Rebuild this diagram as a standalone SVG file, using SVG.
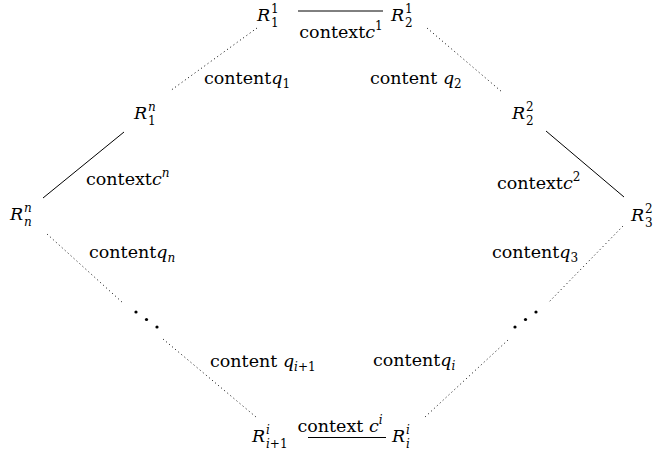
<svg xmlns="http://www.w3.org/2000/svg" width="654" height="456" viewBox="0 0 654 456">
<style>
text{font-family:"DejaVu Serif","Liberation Serif",serif;font-size:17.5px;fill:#000}
.it{font-style:italic}
.s{font-size:12px}
.mid{text-anchor:middle}
.solid{stroke:#000;stroke-width:1;fill:none}
.dot{stroke:#000;stroke-width:1;fill:none;stroke-dasharray:1 3}
</style>
<rect width="654" height="456" fill="#fff"/>
<g id="connectors">
<line class="solid" x1="298" y1="11" x2="383" y2="11"/>
<line class="dot" x1="257" y1="28" x2="170" y2="91"/>
<line class="dot" x1="427" y1="28" x2="502" y2="92"/>
<line class="solid" x1="124" y1="132" x2="43" y2="198"/>
<line class="solid" x1="546" y1="131" x2="624" y2="197"/>
<line class="dot" x1="47" y1="234" x2="123" y2="303"/>
<line class="dot" x1="163" y1="339" x2="256" y2="417"/>
<line class="dot" x1="623" y1="226" x2="548" y2="303"/>
<line class="dot" x1="508" y1="340" x2="425" y2="417"/>
<line class="solid" x1="308" y1="437.5" x2="386" y2="437.5"/>
<g fill="#000">
<circle cx="136" cy="312" r="1.6"/><circle cx="146.5" cy="319.5" r="1.6"/><circle cx="157" cy="327" r="1.6"/>
<circle cx="536" cy="312" r="1.6"/><circle cx="525.5" cy="319.5" r="1.6"/><circle cx="515" cy="327" r="1.6"/>
</g>
</g>
<g id="labels">
<text class="mid" x="341" y="38">context<tspan class="it">c</tspan><tspan class="s" dy="-8">1</tspan></text>
<text x="204" y="84">content<tspan class="it">q</tspan><tspan class="s" dy="4">1</tspan></text>
<text x="370" y="84">content <tspan class="it">q</tspan><tspan class="s" dy="4">2</tspan></text>
<text x="86" y="185">context<tspan class="it">c</tspan><tspan class="s it" dy="-8">n</tspan></text>
<text x="497" y="189">context<tspan class="it">c</tspan><tspan class="s" dy="-8">2</tspan></text>
<text x="89" y="258">content<tspan class="it">q</tspan><tspan class="s it" dy="4">n</tspan></text>
<text x="492" y="258">content<tspan class="it">q</tspan><tspan class="s" dy="4">3</tspan></text>
<text x="210" y="367">content <tspan class="it">q</tspan><tspan class="s" dy="4"><tspan class="it">i</tspan>+1</tspan></text>
<text x="373" y="366">content<tspan class="it">q</tspan><tspan class="s it" dy="4">i</tspan></text>
<text class="mid" x="340" y="432">context <tspan class="it">c</tspan><tspan class="s it" dy="-8">i</tspan></text>
</g>
<g id="R11"><text x="257" y="21"><tspan class="it">R</tspan><tspan class="s" x="271" y="13">1</tspan><tspan class="s" x="271" y="27">1</tspan></text></g>
<g id="R21"><text x="391" y="21"><tspan class="it">R</tspan><tspan class="s" x="405" y="13">1</tspan><tspan class="s" x="405" y="27">2</tspan></text></g>
<g id="R1n"><text x="134" y="119"><tspan class="it">R</tspan><tspan class="s it" x="148" y="111">n</tspan><tspan class="s" x="148" y="125">1</tspan></text></g>
<g id="R22"><text x="512" y="119"><tspan class="it">R</tspan><tspan class="s" x="526" y="111">2</tspan><tspan class="s" x="526" y="125">2</tspan></text></g>
<g id="Rnn"><text x="10" y="220"><tspan class="it">R</tspan><tspan class="s it" x="24" y="212">n</tspan><tspan class="s it" x="24" y="226">n</tspan></text></g>
<g id="R32"><text x="631" y="221"><tspan class="it">R</tspan><tspan class="s" x="645" y="213">2</tspan><tspan class="s" x="645" y="227">3</tspan></text></g>
<g id="Ri1i"><text x="252" y="442"><tspan class="it">R</tspan><tspan class="s it" x="266" y="434">i</tspan><tspan class="s" x="266" y="448"><tspan class="it">i</tspan>+1</tspan></text></g>
<g id="Rii"><text x="392" y="442"><tspan class="it">R</tspan><tspan class="s it" x="406" y="434">i</tspan><tspan class="s it" x="406" y="448">i</tspan></text></g>
</svg>
